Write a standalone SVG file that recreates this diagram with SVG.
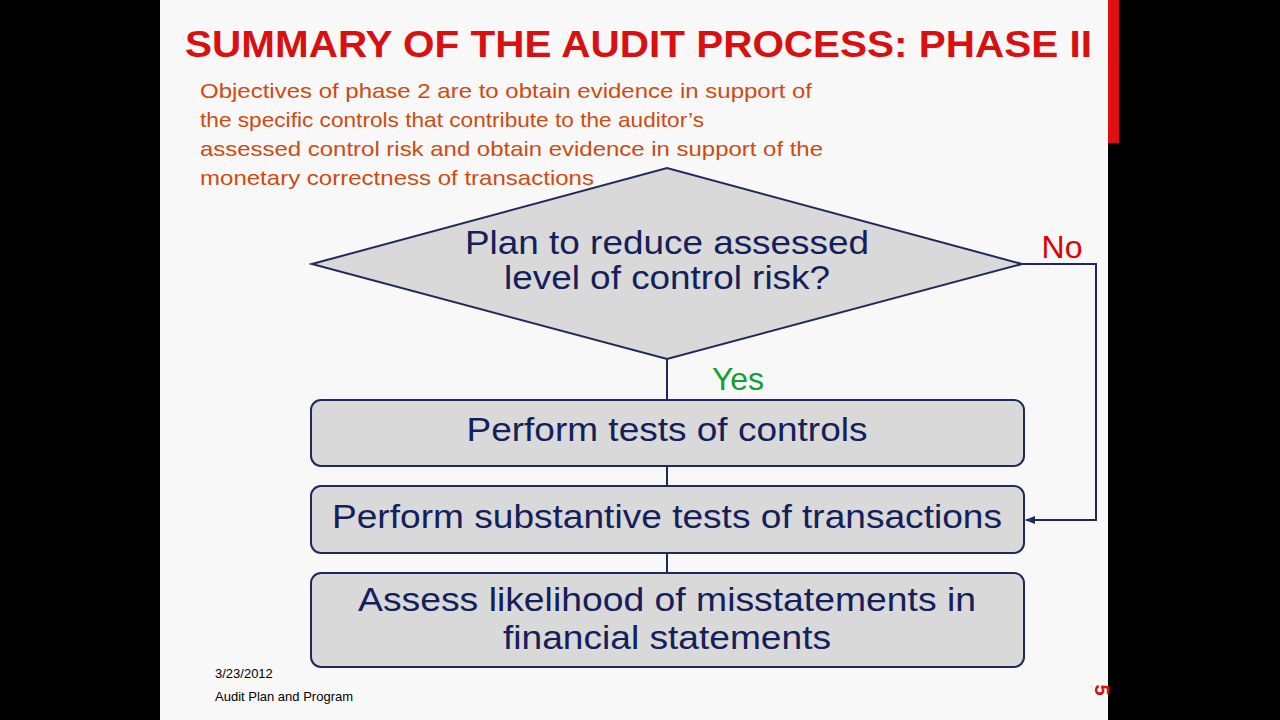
<svg xmlns="http://www.w3.org/2000/svg" width="1280" height="720" viewBox="0 0 1280 720">
<style>
.box{fill:#d9d9d9;stroke:#1f2a5a;stroke-width:2}
.t{font-family:"Liberation Sans",Arial,sans-serif;font-size:33px;fill:#14205a;text-anchor:middle}
.obj{font-family:"Liberation Sans",Arial,sans-serif;font-size:21px;fill:#d04a10}
.ln{stroke:#1f2a5a;stroke-width:2;fill:none}
.sm{font-family:"Liberation Sans",Arial,sans-serif;font-size:13px;fill:#000}
</style>
<defs><marker id="ah" markerWidth="10" markerHeight="8" refX="9" refY="4" orient="auto" markerUnits="userSpaceOnUse"><path d="M0,0 L10,4 L0,8 z" fill="#1f2a5a"/></marker></defs>
<rect width="1280" height="720" fill="#000"/>
<rect x="160" y="0" width="948" height="720" fill="#f8f8f8"/>
<rect x="1108" y="0" width="11" height="143" fill="#e01010"/>
<text x="185" y="57" font-family="Liberation Sans,Arial,sans-serif" font-weight="bold" font-size="36" fill="#d81010" textLength="907" lengthAdjust="spacingAndGlyphs">SUMMARY OF THE AUDIT PROCESS: PHASE II</text>
<text class="obj"><tspan x="200" y="98" textLength="612" lengthAdjust="spacingAndGlyphs">Objectives of phase 2 are to obtain evidence in support of</tspan><tspan x="200" y="127" textLength="504" lengthAdjust="spacingAndGlyphs">the specific controls that contribute to the auditor’s</tspan><tspan x="200" y="156" textLength="623" lengthAdjust="spacingAndGlyphs">assessed control risk and obtain evidence in support of the</tspan><tspan x="200" y="185" textLength="394" lengthAdjust="spacingAndGlyphs">monetary correctness of transactions</tspan></text>
<g id="connectors">
<line class="ln" x1="667" y1="359" x2="667" y2="400"/>
<line class="ln" x1="667" y1="466" x2="667" y2="486"/>
<line class="ln" x1="667" y1="553" x2="667" y2="573"/>
<polyline class="ln" points="1022,264 1096,264 1096,520 1026,520" marker-end="url(#ah)"/>
<text x="1062" y="258" font-family="Liberation Sans,Arial,sans-serif" font-size="32" fill="#e00000" text-anchor="middle">No</text>
<text x="738" y="390" font-family="Liberation Sans,Arial,sans-serif" font-size="32" fill="#10a030" text-anchor="middle">Yes</text>
</g>
<g id="decision"><polygon class="box" points="312,264 667,168 1022,264 667,359"/>
<text class="t"><tspan x="667" y="254" textLength="404" lengthAdjust="spacingAndGlyphs">Plan to reduce assessed</tspan><tspan x="667" y="289" textLength="326" lengthAdjust="spacingAndGlyphs">level of control risk?</tspan></text></g>
<g id="tests-controls"><rect class="box" x="311" y="400" width="713" height="66" rx="10"/><text class="t" x="667" y="441" textLength="401" lengthAdjust="spacingAndGlyphs">Perform tests of controls</text></g>
<g id="substantive"><rect class="box" x="311" y="486" width="713" height="67" rx="10"/><text class="t" x="667" y="528" textLength="670" lengthAdjust="spacingAndGlyphs">Perform substantive  tests of transactions</text></g>
<g id="assess"><rect class="box" x="311" y="573" width="713" height="94" rx="10"/><text class="t"><tspan x="667" y="611" textLength="618" lengthAdjust="spacingAndGlyphs">Assess likelihood  of misstatements in</tspan><tspan x="667" y="649" textLength="328" lengthAdjust="spacingAndGlyphs">financial statements</tspan></text></g>
<text class="sm" x="215" y="678">3/23/2012</text>
<text class="sm" x="215" y="701">Audit Plan and Program</text>
<text x="1095" y="690" font-family="Liberation Sans,Arial,sans-serif" font-weight="bold" font-size="20" fill="#d81010" text-anchor="middle" transform="rotate(90 1095 690)">5</text>
</svg>
